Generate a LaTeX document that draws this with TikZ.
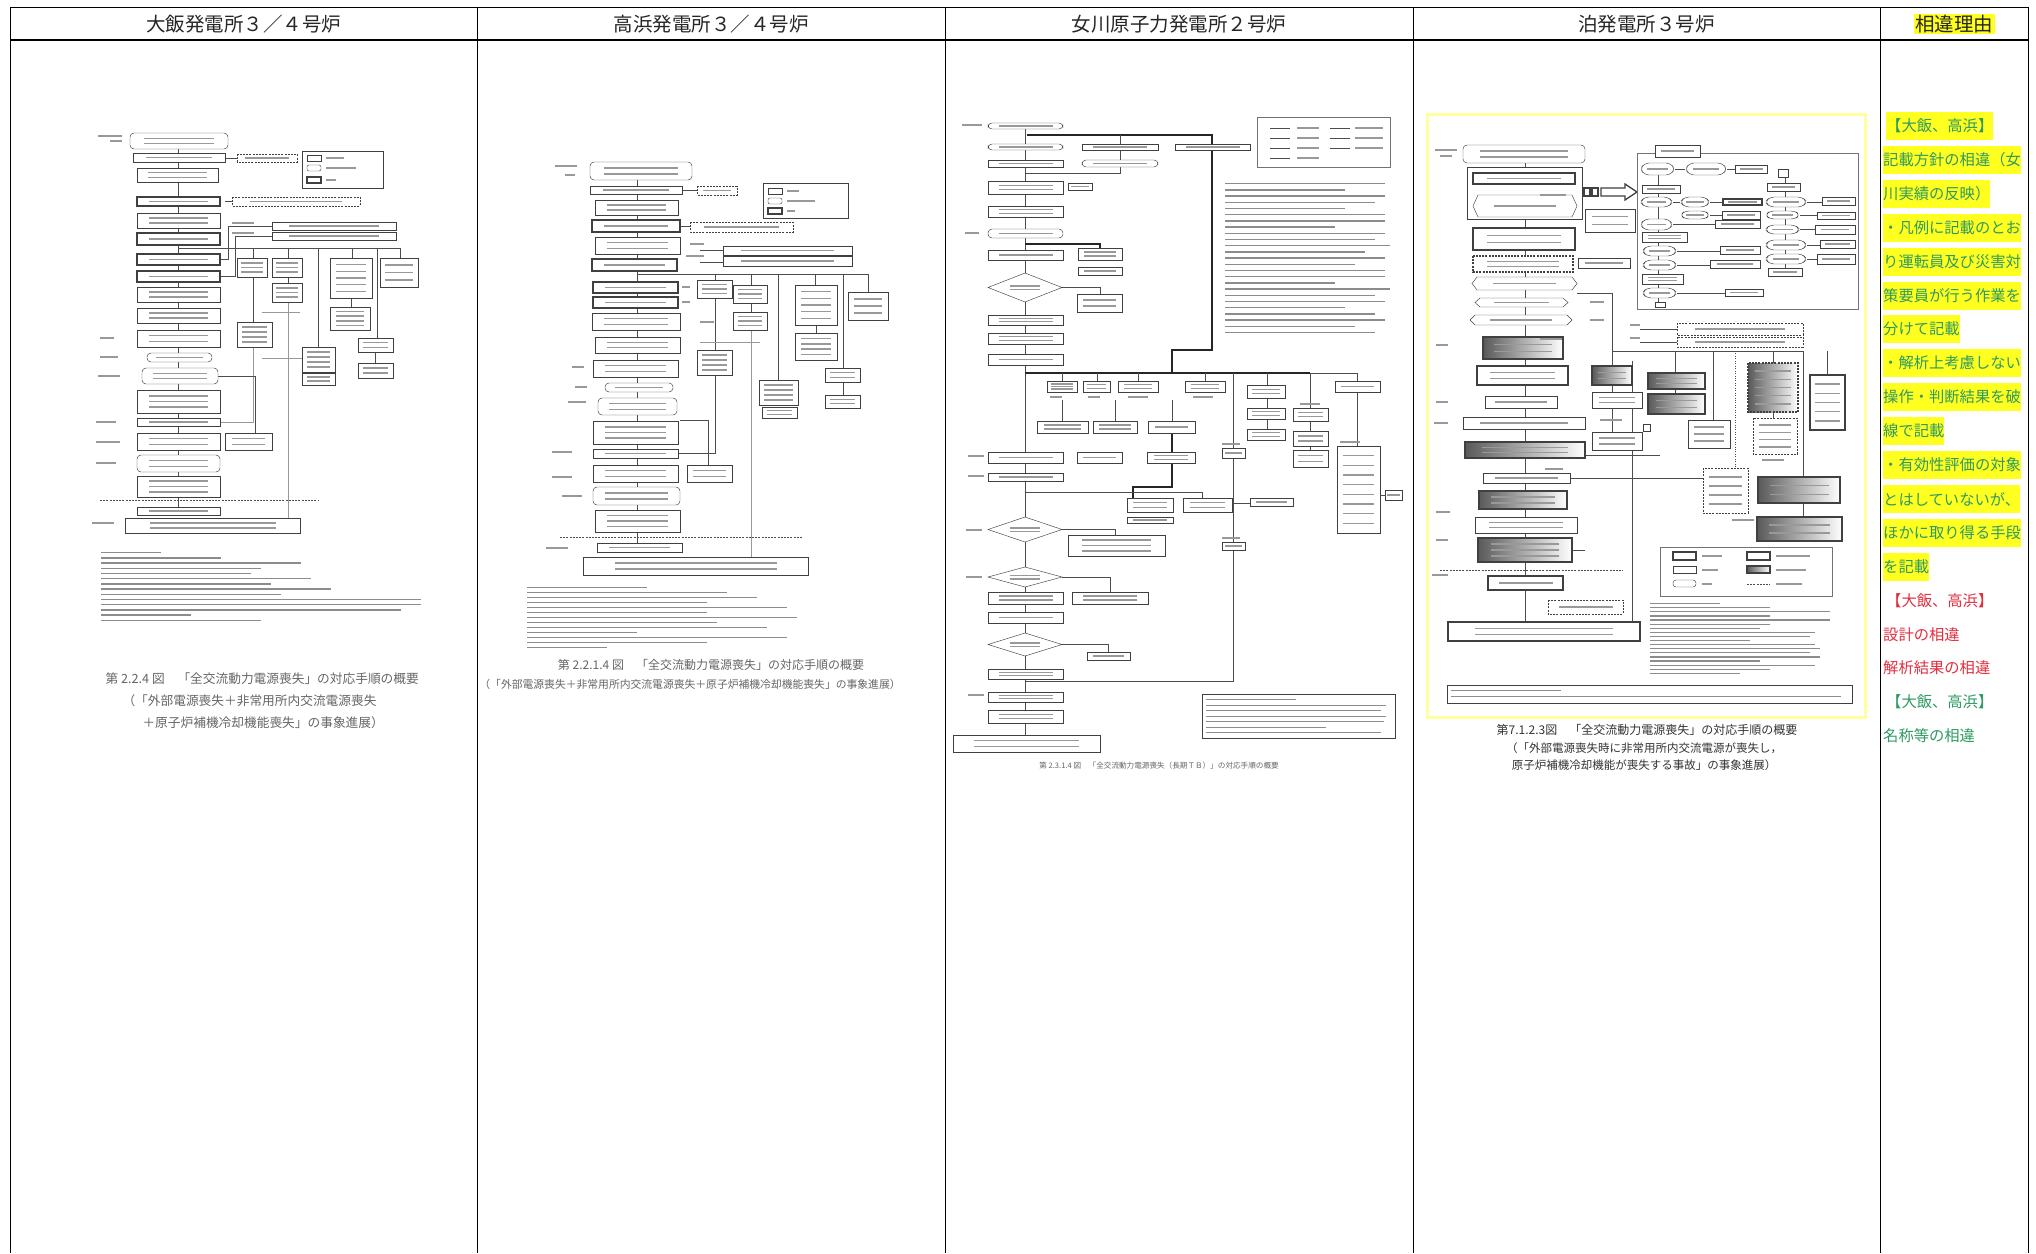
\documentclass[tikz,border=0pt]{standalone}
\usepackage{fontspec}
\setmainfont{Noto Sans CJK JP}
\begin{document}
\definecolor{gtxt}{HTML}{2E9A62}
\definecolor{rtxt}{HTML}{E03040}
\definecolor{hly}{HTML}{FFFF20}
\tikzset{
 fb/.style={draw=black!75, line width=0.45pt, fill=white},
 tk/.style={line width=1.3pt},
 db/.style={dash pattern=on 2pt off 1.2pt},
 rb/.style={rounded corners=4pt},
 ln/.style={draw=black!70, line width=0.45pt},
 tln/.style={draw=black!85, line width=1.6pt},
 tb/.style={fill=black!40},
 nb/.style={fill=black!45},
 sh/.style={left color=black!65, right color=white},
 tgrid/.style={draw=black, line width=1pt},
 hd/.style={font=\fontsize{19.5}{19.5}\selectfont, text=black!85},
 rt/.style={anchor=west, inner xsep=0pt, inner ysep=0pt, minimum height=28pt, font=\fontsize{15.3}{15.3}\selectfont},
 hl/.style={rt, fill=hly, text=gtxt},
 rr/.style={rt, text=rtxt},
 gg/.style={rt, text=gtxt},
 captx/.style={font=\fontsize{12.7}{14}\selectfont, text=black!60},
}
\newcommand\B[6][]{%
 \draw[fb,#1] (#2,#3) rectangle (#4,#5);
 \foreach \k in {1,...,#6}{\fill[tb] ({#2+(#4-#2)*0.14},{#3+(#5-#3)*\k/(#6+1)-0.8}) rectangle ({#4-(#4-#2)*0.14},{#3+(#5-#3)*\k/(#6+1)+0.8});}}
\newcommand\Hx[5][]{%
 \draw[fb,#1] (#2,{(#3+#5)/2}) -- ({#2+5},#3) -- ({#4-5},#3) -- (#4,{(#3+#5)/2}) -- ({#4-5},#5) -- ({#2+5},#5) -- cycle;
 \fill[tb] ({#2+(#4-#2)*0.2},{(#3+#5)/2-0.8}) rectangle ({#4-(#4-#2)*0.2},{(#3+#5)/2+0.8});}
\newcommand\Dm[4]{%
 \draw[fb] (#1,{(#2+#4)/2}) -- ({(#1+#3)/2},#2) -- (#3,{(#2+#4)/2}) -- ({(#1+#3)/2},#4) -- cycle;
 \fill[tb] ({#1+(#3-#1)*0.3},{(#2+#4)/2-2.5}) rectangle ({#3-(#3-#1)*0.3},{(#2+#4)/2-1});
 \fill[tb] ({#1+(#3-#1)*0.3},{(#2+#4)/2+1}) rectangle ({#3-(#3-#1)*0.3},{(#2+#4)/2+2.5});}
\newcommand\Lb[3]{\fill[tb] (#1,{#2-0.7}) rectangle ++(#3,1.4);}
\begin{tikzpicture}[x=1pt,y=-1pt]
\useasboundingbox (0,0) rectangle (2036,1253);
\fill[white] (0,0) rectangle (2036,1253);
% ---------------- table grid ----------------
\draw[tgrid] (10,7) -- (2028,7);
\draw[draw=black, line width=2.2pt] (10,40) -- (2028,40);
\foreach \x in {10,477,945,1413,1880,2028} \draw[tgrid] (\x,7) -- (\x,1253);
\node[hd] (h1) at (243.5,24) {大飯発電所３／４号炉};
\node[hd] (h2) at (711,24) {高浜発電所３／４号炉};
\node[hd] (h3) at (1179,24) {女川原子力発電所２号炉};
\node[hd] (h4) at (1646.5,24) {泊発電所３号炉};
\node[hd, fill=hly, inner sep=1.5pt] (h5) at (1954,24) {相違理由};
% ---------------- right column ----------------
\node[hl] (r1) at (1886,126) {【大飯、高浜】};
\node[hl] (r2) at (1883,160) {記載方針の相違（女};
\node[hl] (r3) at (1883,194) {川実績の反映）};
\node[hl] (r4) at (1883,228) {・凡例に記載のとお};
\node[hl] (r5) at (1883,262) {り運転員及び災害対};
\node[hl] (r6) at (1883,296) {策要員が行う作業を};
\node[hl] (r7) at (1883,329) {分けて記載};
\node[hl] (r8) at (1883,363) {・解析上考慮しない};
\node[hl] (r9) at (1883,397) {操作・判断結果を破};
\node[hl] (r10) at (1883,431) {線で記載};
\node[hl] (r11) at (1883,465) {・有効性評価の対象};
\node[hl] (r12) at (1883,499) {とはしていないが、};
\node[hl] (r13) at (1883,533) {ほかに取り得る手段};
\node[hl] (r14) at (1883,567) {を記載};
\node[rr] (r15) at (1886,601) {【大飯、高浜】};
\node[rr] (r16) at (1883,635) {設計の相違};
\node[rr] (r17) at (1883,668) {解析結果の相違};
\node[gg] (r18) at (1886,702) {【大飯、高浜】};
\node[gg] (r19) at (1883,736) {名称等の相違};
% ================= Ohi chart =================
\draw[ln] (178,149) -- (178,507);
\draw[ln] (178,248) -- (400,248);
\foreach \x/\y in {253/258,288/258,318/347,352/258,377/338,400/258} \draw[ln] (\x,248) -- (\x,\y);
\draw[ln] (253,277) -- (253,322); \draw[ln] (288,277) -- (288,283); \draw[ln] (351,298) -- (351,307);
\draw[ln] (375,352) -- (375,363);
\draw[ln, black!40] (288,302) -- (288,518); \draw[ln, black!40] (253,347) -- (253,422) -- (220,422);
\draw[ln] (218,376) -- (255,376) -- (255,433);
\draw[ln] (225,201) -- (232,201); \draw[ln] (225,158) -- (237,158);
\draw[ln] (220,259) -- (228,259) -- (228,226) -- (272,226);
\draw[ln] (220,276) -- (235,276) -- (235,236) -- (272,236);
\draw[ln, black!40] (262,312) -- (300,312); \draw[ln, black!40] (262,358) -- (302,358);
\B[rb]{130}{133}{228}{149}{2}
\B{133}{153}{225}{162}{1}
\B[db]{237}{154}{297}{162}{1}
\draw[fb] (302,151) rectangle (383,188);
\draw[fb] (307,155) rectangle (321,161); \Lb{326}{158}{18}
\draw[fb,rounded corners=2pt] (307,165) rectangle (321,171); \Lb{326}{168}{30}
\draw[fb,tk] (307,177) rectangle (321,183); \Lb{326}{180}{10}
\B{137}{168}{218}{182}{2}
\B[tk]{137}{197}{220}{206}{1}
\B[db]{232}{197}{360}{206}{1}
\B{137}{213}{220}{228}{2}
\B[tk]{137}{233}{220}{245}{1}
\B{272}{222}{396}{230}{1}
\B{272}{232}{396}{240}{1}
\B[tk]{137}{254}{220}{265}{1}
\B[tk]{137}{271}{220}{282}{1}
\B{137}{287}{220}{302}{2}
\B{137}{308}{220}{323}{2}
\B{137}{330}{220}{347}{2}
\B[rb]{147}{353}{212}{362}{1}
\B[rb]{142}{368}{218}{384}{2}
\B{137}{390}{220}{413}{3}
\B{137}{418}{220}{426}{1}
\B{137}{433}{220}{450}{2}
\B[rb]{137}{455}{220}{472}{2}
\B{137}{476}{220}{497}{3}
\draw[ln, db] (100,500) -- (318,500);
\B{137}{507}{220}{515}{1}
\B{125}{518}{300}{533}{2}
\B{237}{258}{267}{277}{3}
\B{272}{258}{302}{277}{3}
\B{272}{283}{302}{302}{3}
\B{330}{258}{372}{298}{5}
\B{330}{307}{370}{330}{4}
\B{380}{258}{418}{287}{3}
\B{237}{322}{272}{347}{4}
\B{302}{347}{335}{372}{4}
\B{302}{373}{335}{385}{2}
\B{358}{338}{393}{352}{2}
\B{358}{363}{393}{378}{2}
\B{225}{433}{272}{450}{2}
\Lb{98}{136}{24}\Lb{110}{141}{12}\Lb{100}{338}{14}\Lb{100}{357}{18}\Lb{98}{376}{22}
\Lb{96}{422}{20}\Lb{96}{442}{24}\Lb{96}{463}{20}\Lb{92}{523}{22}\Lb{232}{223}{22}\Lb{232}{233}{22}
\foreach \L [count=\i] in {60,120,200,160,150,210,170,230,180,320,320,300,90,160}
  \fill[nb] (101,{552+(\i-1)*5.2}) rectangle ++(\L,1.3);
\node[captx, anchor=west] (c1) at (102,679) {第 2.2.4 図　「全交流動力電源喪失」の対応手順の概要};
\node[captx, anchor=west] (c2) at (119,701) {（「外部電源喪失＋非常用所内交流電源喪失};
\node[captx, anchor=west] (c3) at (139,723) {＋原子炉補機冷却機能喪失」の事象進展）};
% ================= Takahama chart =================
\draw[ln] (637,180) -- (637,543);
\draw[ln] (637,274) -- (868,274);
\foreach \x/\y in {715/280,751/285,778/380,815/285,843/368,868/292} \draw[ln] (\x,274) -- (\x,\y);
\draw[ln] (715,298) -- (715,350); \draw[ln] (751,303) -- (751,312); \draw[ln] (816,325) -- (816,333);
\draw[ln] (843,382) -- (843,395); \draw[ln] (715,375) -- (715,453) -- (678,453);
\draw[ln, black!40] (751,330) -- (751,557); \draw[ln, black!40] (700,342) -- (760,342);
\draw[ln] (680,420) -- (708,420) -- (708,465);
\draw[ln] (682,190) -- (697,190); \draw[ln] (680,226) -- (690,226);
\draw[ln] (700,250) -- (723,250); \draw[ln] (700,262) -- (723,262);
\B[rb]{590}{162}{692}{180}{2}
\B{590}{186}{682}{194}{1}
\B[db]{697}{186}{737}{195}{1}
\draw[fb] (763,183) rectangle (848,218);
\draw[fb] (768,188) rectangle (782,194); \Lb{787}{191}{12}
\draw[fb,rounded corners=2pt] (768,198) rectangle (782,204); \Lb{787}{201}{28}
\draw[fb,tk] (768,208) rectangle (782,214); \Lb{787}{211}{8}
\B{595}{200}{678}{215}{2}
\B[tk]{592}{220}{680}{232}{1}
\B[db]{690}{222}{793}{232}{1}
\B{595}{237}{680}{254}{2}
\B[tk]{592}{259}{677}{271}{1}
\B{723}{246}{852}{255}{1}
\B{723}{256}{852}{266}{1}
\B[tk]{593}{282}{678}{293}{1}
\B[tk]{593}{297}{678}{308}{1}
\B{592}{313}{680}{330}{2}
\B{595}{337}{680}{353}{2}
\B{593}{360}{678}{377}{2}
\B[rb]{605}{383}{673}{392}{1}
\B[rb]{598}{398}{677}{415}{2}
\B{593}{421}{678}{444}{3}
\B{593}{449}{678}{458}{1}
\B{593}{465}{678}{482}{2}
\B[rb]{593}{487}{680}{505}{2}
\B{595}{510}{680}{532}{3}
\draw[ln, db] (560,537) -- (803,537);
\B{597}{543}{682}{552}{1}
\B{583}{557}{808}{575}{2}
\B{697}{280}{732}{298}{3}
\B{733}{285}{767}{303}{3}
\B{733}{312}{767}{330}{3}
\B{795}{285}{837}{325}{5}
\B{795}{333}{837}{360}{4}
\B{848}{292}{888}{320}{3}
\B{697}{350}{732}{375}{4}
\B{759}{380}{798}{405}{4}
\B{762}{407}{797}{418}{2}
\B{825}{368}{860}{382}{2}
\B{825}{395}{860}{408}{2}
\B{687}{465}{732}{482}{2}
\Lb{555}{166}{22}\Lb{565}{175}{10}\Lb{572}{367}{12}\Lb{575}{387}{12}\Lb{568}{402}{18}
\Lb{552}{452}{20}\Lb{552}{477}{20}\Lb{562}{496}{20}\Lb{546}{548}{22}
\Lb{690}{244}{14}\Lb{686}{256}{18}\Lb{682}{287}{8}\Lb{682}{302}{8}\Lb{700}{322}{14}
\foreach \L [count=\i] in {120,200,230,180,260,180,270,190,240,110,260,180,80}
  \fill[nb] (527,{587+(\i-1)*5}) rectangle ++(\L,1.3);
\node[captx, anchor=center, font=\fontsize{12}{14}\selectfont] (c4) at (711,665) {第 2.2.1.4 図　「全交流動力電源喪失」の対応手順の概要};
\node[captx, anchor=center, font=\fontsize{10.8}{12}\selectfont] (c5) at (690,684) {（「外部電源喪失＋非常用所内交流電源喪失＋原子炉補機冷却機能喪失」の事象進展）};
% ================= Onagawa chart =================
\draw[ln] (1025,129) -- (1025,735);
\draw[tln] (1027,135) -- (1212,135) -- (1212,350) -- (1172,350) -- (1172,373);
\draw[ln] (1120,135) -- (1120,144); \draw[ln] (1120,150) -- (1120,160); \draw[ln] (1120,167) -- (1120,173) -- (1025,173);
\draw[tln] (1025,244) -- (1100,244) -- (1100,248);
\draw[ln] (1062,287.5) -- (1100,287.5) -- (1100,294);
\draw[tln] (1025,373) -- (1310,373); \draw[ln] (1310,373) -- (1357,373);
\foreach \x/\y in {1062/381,1097/381,1138/381,1205/381,1267/385,1310/408,1357/446,1233/448} \draw[ln] (\x,373) -- (\x,\y);
\draw[ln] (1062,400) -- (1062,421); \draw[ln] (1115,400) -- (1115,421); \draw[ln] (1172,400) -- (1172,421);
\draw[tln] (1172,433) -- (1172,487) -- (1133,487) -- (1133,498);
\draw[ln] (1025,492) -- (1202,492) -- (1202,498);
\draw[ln] (1062,529) -- (1115,529) -- (1115,535);
\draw[ln] (1062,577) -- (1110,577) -- (1110,592);
\draw[ln] (1062,644) -- (1108,644) -- (1108,652);
\draw[ln] (1233,458) -- (1233,681) -- (1025,681);
\draw[ln] (1233,503) -- (1250,503);
\draw[ln] (1267,398) -- (1267,408); \draw[ln] (1267,419) -- (1267,429);
\draw[ln] (1310,421) -- (1310,431); \draw[ln] (1310,446) -- (1310,450);
\draw[ln] (1380,495) -- (1385,495);
\B[rb]{988}{123}{1063}{129}{1}
\B[rb]{988}{144}{1063}{150}{1}
\B{1082}{144}{1158}{150}{1}
\B{1175}{144}{1250}{150}{1}
\B{988}{160}{1063}{167}{1}
\B[rb]{1082}{160}{1158}{167}{1}
\B{988}{181}{1063}{194}{2}
\B{1068}{183}{1092}{190}{1}
\B{988}{206}{1063}{217}{2}
\B[rb]{988}{229}{1063}{238}{1}
\B{988}{250}{1063}{260}{1}
\B{1078}{248}{1122}{260}{2}
\B{1078}{267}{1122}{275}{1}
\Dm{988}{273}{1062}{302}
\B{1077}{294}{1122}{312}{2}
\B{988}{315}{1063}{325}{2}
\B{988}{333}{1063}{344}{2}
\B{988}{354}{1063}{365}{1}
\B{1047}{381}{1077}{392}{3}
\B{1083}{381}{1110}{392}{2}
\B{1118}{381}{1158}{392}{2}
\B{1185}{381}{1225}{392}{2}
\Lb{1050}{397}{12}\Lb{1088}{397}{12}\Lb{1128}{397}{20}\Lb{1193}{397}{20}
\B{1037}{421}{1088}{433}{2}
\B{1093}{421}{1137}{433}{2}
\B{1148}{421}{1195}{433}{1}
\B{988}{452}{1063}{463}{1}
\B{1077}{452}{1122}{463}{1}
\B{1147}{452}{1195}{463}{2}
\B{988}{473}{1063}{481}{1}
\B{1127}{498}{1173}{512}{2}
\B{1183}{498}{1232}{512}{2}
\B{1127}{517}{1173}{523}{1}
\Dm{988}{517}{1062}{542}
\B{1068}{535}{1165}{556}{3}
\Dm{988}{567}{1062}{587}
\B{988}{592}{1063}{604}{2}
\B{1072}{592}{1148}{604}{2}
\B{988}{612}{1063}{623}{1}
\Dm{988}{633}{1062}{656}
\B{1087}{652}{1130}{660}{1}
\B{988}{669}{1063}{679}{2}
\B{988}{692}{1063}{702}{2}
\B{988}{710}{1063}{723}{2}
\B{953}{735}{1100}{752}{2}
\B{1247}{385}{1285}{398}{2}
\B{1247}{408}{1285}{419}{2}
\B{1247}{429}{1285}{440}{2}
\B{1293}{408}{1328}{421}{2}
\B{1293}{431}{1328}{446}{2}
\B{1293}{450}{1328}{467}{2}
\B{1335}{381}{1380}{392}{1}
\B{1337}{446}{1380}{533}{8}
\B{1385}{490}{1402}{500}{1}
\B{1222}{448}{1245}{458}{1}
\B{1222}{542}{1245}{550}{1}
\B{1250}{498}{1293}{506}{1}
\Lb{962}{125}{20}\Lb{965}{233}{14}\Lb{968}{456}{16}\Lb{968}{476}{16}\Lb{966}{530}{16}
\Lb{966}{577}{16}\Lb{968}{695}{16}\Lb{1222}{444}{18}\Lb{1222}{538}{18}\Lb{1300}{404}{20}\Lb{1340}{442}{20}
\draw[fb, draw=black!55] (1257,117) rectangle (1390,167);
\foreach \yy in {128,138,148,158} {\draw[ln] (1270,\yy) -- (1290,\yy); \Lb{1297}{\yy}{22}}
\foreach \yy in {128,138,148} {\draw[ln] (1330,\yy) -- (1350,\yy); \Lb{1355}{\yy}{28}}
\foreach \L [count=\i] in {160,120,160,150,120,160,160,110,160,150,165,140,160,130,160,160,110,165,150,160,120,150,160,130,150}
  \fill[nb] (1225,{183+(\i-1)*6.2}) rectangle ++(\L,1.3);
\draw[fb] (1202,694) rectangle (1395,738);
\foreach \L [count=\i] in {90,180,175,180,178,120,175}
  \fill[nb] (1206,{699+(\i-1)*5.5}) rectangle ++(\L,1.3);
\node[captx, anchor=center, font=\fontsize{7.6}{8}\selectfont] (c6) at (1159,766) {第 2.3.1.4 図　「全交流動力電源喪失（長期ＴＢ）」の対応手順の概要};
% ================= Tomari chart =================
\draw[draw=hly!45, line width=3pt] (1427,114) rectangle (1865,717);
\draw[ln] (1525,163) -- (1525,622);
\draw[ln] (1577,293) -- (1612,293) -- (1612,351) -- (1803,351);
\foreach \x/\y in {1612/366,1675/373,1713/420,1773/363,1803/477,1827/375} \draw[ln] (\x,351) -- (\x,\y);
\draw[ln, dotted] (1735,351) -- (1735,468);
\draw[ln] (1612,385) -- (1612,392); \draw[ln] (1612,408) -- (1612,432); \draw[ln] (1675,389) -- (1675,394);
\draw[ln] (1773,412) -- (1773,418); \draw[ln] (1803,503) -- (1803,517);
\draw[ln] (1632,361) -- (1632,622);
\draw[ln] (1585,455) -- (1660,455); \draw[ln] (1570,478) -- (1703,478);
\draw[ln] (1572,550) -- (1585,550);
\draw[ln] (1640,329) -- (1677,329); \draw[ln] (1640,342) -- (1677,342);
\B[rb]{1463}{145}{1585}{163}{2}
\draw[fb] (1467,167) rectangle (1582,219);
\B[tk]{1473}{173}{1575}{184}{1}
\Hx{1473}{195}{1577}{217}
\draw[fb,tk] (1584,188) rectangle (1590,196);
\draw[fb,tk] (1592,188) rectangle (1598,196);
\draw[fb,tk] (1601,188) -- (1625,188) -- (1625,184) -- (1637,192) -- (1625,200) -- (1625,196) -- (1601,196) -- cycle;
\B{1585}{209}{1635}{232}{2}
\B[tk]{1473}{228}{1575}{250}{2}
\B[tk,db]{1473}{256}{1573}{272}{2}
\B{1578}{258}{1630}{268}{1}
\Hx{1472}{277}{1577}{290}
\Hx{1475}{298}{1568}{307}
\Hx{1470}{315}{1572}{325}
\B[tk,sh]{1483}{337}{1563}{359}{2}
\B[tk]{1477}{366}{1568}{385}{2}
\B{1485}{396}{1557}{408}{1}
\B{1463}{417}{1585}{429}{1}
\B[tk,sh]{1465}{442}{1585}{458}{2}
\B{1483}{473}{1570}{483}{1}
\B[tk,sh]{1479}{491}{1567}{509}{2}
\B{1475}{517}{1577}{533}{2}
\B[tk,sh]{1478}{538}{1572}{562}{3}
\draw[ln, db] (1440,570) -- (1623,570);
\B[tk]{1488}{576}{1563}{590}{1}
\B[db]{1548}{600}{1623}{614}{1}
\B[tk]{1448}{622}{1640}{641}{2}
\B[db]{1677}{323}{1803}{335}{1}
\B[db]{1677}{337}{1803}{347}{1}
\B[tk,sh]{1592}{366}{1632}{385}{2}
\B{1592}{392}{1642}{408}{2}
\B{1592}{432}{1642}{450}{2}
\draw[fb] (1643,424) rectangle (1650,431);
\B[tk,sh]{1648}{373}{1705}{389}{2}
\B[tk,sh]{1648}{394}{1705}{414}{2}
\B[tk,db,sh]{1748}{363}{1798}{412}{5}
\B[db]{1753}{418}{1797}{454}{4}
\B{1688}{420}{1730}{448}{3}
\B[db]{1703}{468}{1748}{513}{4}
\B[tk,sh]{1758}{477}{1840}{503}{2}
\B[tk,sh]{1757}{517}{1842}{541}{2}
\B[tk]{1810}{375}{1845}{430}{5}
\Lb{1435}{150}{22}\Lb{1440}{156}{12}\Lb{1436}{345}{12}\Lb{1436}{402}{12}\Lb{1434}{423}{14}
\Lb{1436}{512}{14}\Lb{1436}{540}{12}\Lb{1432}{575}{16}\Lb{1590}{302}{14}\Lb{1590}{320}{14}
\Lb{1630}{325}{10}\Lb{1630}{338}{10}\Lb{1600}{420}{22}\Lb{1762}{460}{22}\Lb{1732}{520}{22}
\Lb{1540}{339}{22}\Lb{1545}{469}{18}\Lb{1540}{195}{26}
% sub-diagram
\draw[fb, draw=black!55] (1637,153) rectangle (1858,309);
\B{1655}{145}{1700}{157}{1}
\draw[ln] (1658,163) -- (1658,302);
\draw[ln] (1785,169) -- (1785,276);
\Hx[rb]{1640}{163}{1675}{175}
\Hx[rb]{1685}{163}{1727}{175}
\B{1735}{165}{1767}{173}{1}
\draw[ln] (1675,169) -- (1685,169); \draw[ln] (1727,169) -- (1735,169);
\B{1642}{185}{1680}{193}{1}
\Hx[rb]{1640}{197}{1673}{207}
\Hx[rb]{1680}{197}{1710}{207}
\B[tk]{1723}{199}{1762}{205}{1}
\draw[ln] (1673,202) -- (1680,202); \draw[ln] (1710,202) -- (1723,202);
\Hx[rb]{1680}{211}{1710}{219}
\B{1722}{211}{1760}{219}{1}
\draw[ln] (1710,215) -- (1722,215);
\Hx[rb]{1640}{219}{1673}{230}
\B{1715}{220}{1760}{228}{1}
\draw[ln] (1673,224) -- (1715,224);
\B{1642}{232}{1687}{242}{2}
\Hx[rb]{1642}{246}{1677}{256}
\B{1720}{246}{1760}{254}{1}
\draw[ln] (1677,251) -- (1720,251);
\Hx[rb]{1642}{260}{1677}{270}
\B{1710}{260}{1760}{268}{1}
\draw[ln] (1677,265) -- (1710,265);
\B{1642}{274}{1683}{284}{2}
\Hx[rb]{1642}{288}{1677}{298}
\B{1725}{289}{1763}{296}{1}
\draw[ln] (1677,293) -- (1725,293);
\draw[fb] (1655,302) rectangle (1665,307);
\draw[fb] (1778,169) rectangle (1788,177);
\B{1767}{183}{1800}{191}{1}
\Hx[rb]{1765}{197}{1807}{207}
\B{1822}{197}{1855}{205}{1}
\Hx[rb]{1765}{211}{1800}{219}
\B{1817}{212}{1855}{219}{1}
\Hx[rb]{1765}{225}{1800}{234}
\B{1815}{225}{1855}{234}{1}
\Hx[rb]{1765}{240}{1807}{250}
\B{1820}{240}{1855}{248}{1}
\Hx[rb]{1765}{254}{1807}{264}
\B{1817}{254}{1855}{264}{1}
\B{1768}{268}{1802}{276}{1}
\foreach \a/\b/\yy in {1807/1822/202,1800/1817/215,1800/1815/229,1807/1820/245,1807/1817/259} \draw[ln] (\a,\yy) -- (\b,\yy);
% legend and notes
\draw[fb, draw=black!55] (1660,547) rectangle (1832,596);
\draw[fb,tk] (1673,552) rectangle (1696,560); \Lb{1702}{556}{20}
\draw[fb] (1673,566) rectangle (1696,573); \Lb{1702}{570}{16}
\draw[fb,rounded corners=3pt] (1673,580) rectangle (1696,587); \Lb{1702}{584}{10}
\draw[fb,tk] (1747,552) rectangle (1770,560); \Lb{1776}{556}{34}
\draw[fb,tk,sh] (1747,566) rectangle (1770,573); \Lb{1776}{570}{30}
\draw[ln,db,line width=1pt] (1747,584) -- (1770,584); \Lb{1776}{584}{26}
\foreach \L [count=\i] in {70,120,180,120,180,120,110,165,160,100,165,170,160,170,110,165,120,90}
  \fill[nb] (1650,{603+(\i-1)*4.1}) rectangle ++(\L,1.2);
\draw[fb] (1447,685) rectangle (1852,703);
\fill[nb] (1451,690) rectangle ++(110,1.3);
\fill[nb] (1451,696) rectangle ++(390,1.3);
\node[font=\fontsize{12}{14}\selectfont, text=black!80] (c7) at (1647,730) {第7.1.2.3図　「全交流動力電源喪失」の対応手順の概要};
\node[font=\fontsize{11.5}{13}\selectfont, text=black!80] (c8) at (1644,748) {（「外部電源喪失時に非常用所内交流電源が喪失し，};
\node[font=\fontsize{11.5}{13}\selectfont, text=black!80] (c9) at (1644,765) {原子炉補機冷却機能が喪失する事故」の事象進展）};
\end{tikzpicture}
\end{document}
